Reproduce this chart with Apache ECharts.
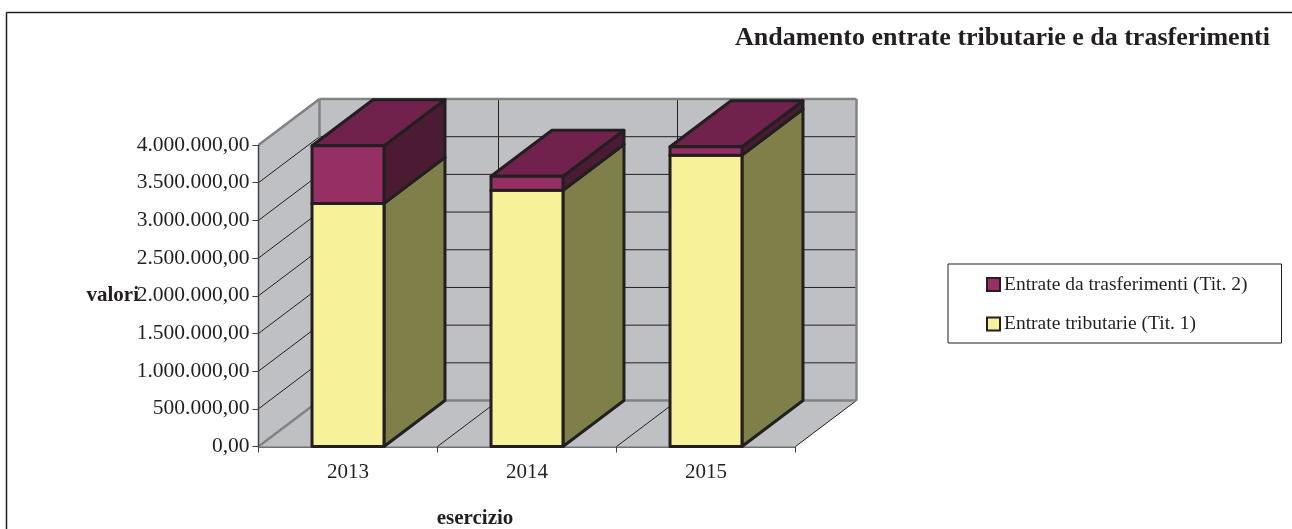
<!DOCTYPE html>
<html>
<head>
<meta charset="utf-8">
<style>html,body{margin:0;padding:0;background:#fff}#c{width:1292px;height:529px}</style>
<script src="https://cdn.jsdelivr.net/npm/echarts@6/dist/echarts.min.js"></script>
</head>
<body>
<div id="c"></div>
<script>
var categories = ['2013', '2014', '2015'];
var tributarie = [3225000, 3400000, 3865000];
var trasferimenti = [765000, 185000, 112000];
var yTicks = [0, 500000, 1000000, 1500000, 2000000, 2500000, 3000000, 3500000, 4000000];

var FONT = '"Liberation Serif", "Times New Roman", serif';
var INK = '#231f20';
var AXIS = '#414042';
var EDGE = '#808285';
var WALL = '#bfc0c4';
var DX = 61, DY = 46, BAR_RATIO = 0.402;

function fmt(v) {
  var s = String(Math.round(v)).replace(/\B(?=(\d{3})+(?!\d))/g, '.');
  return s + ',00';
}
function poly(points, fill, stroke, lw) {
  return { type: 'polygon', shape: { points: points }, style: { fill: fill, stroke: stroke, lineWidth: lw, lineJoin: 'round' } };
}
function seg(a, b, stroke, lw) {
  return { type: 'line', shape: { x1: a[0], y1: a[1], x2: b[0], y2: b[1] }, style: { stroke: stroke, lineWidth: lw, fill: null } };
}
function back(p) { return [p[0] + DX, p[1] - DY]; }

function renderWalls(params, api) {
  var band = api.size([1, 0])[0];
  var maxV = yTicks[yTicks.length - 1];
  var x0 = api.coord([0, 0])[0] - band / 2;
  var xN = x0 + band * categories.length;
  var y0 = api.coord([0, 0])[1];
  var yT = api.coord([0, maxV])[1];
  var a = [x0, y0], b = [xN, y0], c = [xN, yT], d = [x0, yT];
  var ch = [];
  ch.push(poly([a, back(a), back(d), d], WALL, null, 0));
  ch.push(poly([a, b, back(b), back(a)], WALL, null, 0));
  ch.push(poly([back(a), back(b), back(c), back(d)], WALL, null, 0));
  yTicks.forEach(function (v) {
    if (v === 0 || v === maxV) return;
    var y = api.coord([0, v])[1];
    ch.push(seg([x0, y], back([x0, y]), INK, 1));
    ch.push(seg(back([x0, y]), back([xN, y]), INK, 1));
  });
  for (var i = 1; i <= categories.length; i++) {
    var x = x0 + band * i;
    ch.push(seg([x, y0], back([x, y0]), INK, 1));
    if (i < categories.length) ch.push(seg(back([x, y0]), back([x, yT]), INK, 1));
  }
  ch.push(seg(a, back(a), EDGE, 2.5));
  ch.push(seg(d, back(d), EDGE, 2.5));
  ch.push(seg(back(a), back(d), EDGE, 2.5));
  ch.push(seg(back(a), back(b), EDGE, 2.5));
  ch.push(seg(back(b), back(c), EDGE, 2.5));
  ch.push(seg(back(c), back(d), EDGE, 2.5));
  ch.push(seg(a, d, AXIS, 1.5));
  return { type: 'group', children: ch };
}

function barRenderer(front, side, top) {
  return function (params, api) {
    var band = api.size([1, 0])[0];
    var w = band * BAR_RATIO;
    var pLow = api.coord([api.value(0), api.value(1)]);
    var pHigh = api.coord([api.value(0), api.value(2)]);
    var l = pLow[0] - w / 2, r = pLow[0] + w / 2;
    var bl = [l, pLow[1]], br = [r, pLow[1]], tl = [l, pHigh[1]], tr = [r, pHigh[1]];
    return {
      type: 'group',
      children: [
        poly([br, back(br), back(tr), tr], side, INK, 3),
        poly([tl, tr, back(tr), back(tl)], top, INK, 3),
        poly([bl, br, tr, tl], front, INK, 3)
      ]
    };
  };
}

var lowData = categories.map(function (c, i) { return [i, 0, tributarie[i]]; });
var highData = categories.map(function (c, i) { return [i, tributarie[i], tributarie[i] + trasferimenti[i]]; });

var chart = echarts.init(document.getElementById('c'), null, { renderer: 'canvas' });
chart.setOption({
  animation: false,
  backgroundColor: '#ffffff',
  title: {
    text: 'Andamento entrate tributarie e da trasferimenti',
    right: 17, top: 20,
    textStyle: { fontFamily: FONT, fontSize: 26, fontWeight: 'bold', color: INK }
  },
  legend: {
    left: 948, top: 264, orient: 'vertical',
    padding: [10.5, 34, 9, 38],
    itemGap: 19.5, itemWidth: 13, itemHeight: 13,
    borderColor: INK, borderWidth: 1, backgroundColor: '#fff',
    icon: 'rect',
    itemStyle: { borderColor: INK, borderWidth: 2 },
    data: ['Entrate da trasferimenti (Tit. 2)', 'Entrate tributarie (Tit. 1)'],
    textStyle: { fontFamily: FONT, fontSize: 19.5, color: INK, padding: [2, 0, 0, -1] },
    selectedMode: false
  },
  grid: { left: 258.5, top: 145, width: 537, height: 301.5, containLabel: false, outerBoundsMode: 'none' },
  xAxis: {
    type: 'category', data: categories,
    name: 'esercizio', nameLocation: 'middle', nameGap: 62, nameMoveOverlap: false,
    nameTextStyle: { fontFamily: FONT, fontSize: 21, fontWeight: 'bold', color: INK, padding: [0, 104, 0, 0] },
    axisLine: { show: true, lineStyle: { color: AXIS, width: 1.5 } },
    axisTick: { show: true, alignWithLabel: false, length: 6, lineStyle: { color: AXIS, width: 1 } },
    axisLabel: { fontFamily: FONT, fontSize: 21, color: INK, margin: 15 },
    splitLine: { show: false }
  },
  yAxis: {
    type: 'value', min: 0, max: 4000000, interval: 500000,
    name: 'valori', nameLocation: 'middle', nameRotate: 0, nameGap: 119.5, nameMoveOverlap: false,
    nameTextStyle: { fontFamily: FONT, fontSize: 21, fontWeight: 'bold', color: INK },
    axisLine: { show: true, lineStyle: { color: AXIS, width: 1.5 } },
    axisTick: { show: true, length: 6, lineStyle: { color: AXIS, width: 1 } },
    axisLabel: { fontFamily: FONT, fontSize: 21.5, color: INK, margin: 9, padding: [3, 0, 0, 0], formatter: fmt },
    splitLine: { show: false }
  },
  graphic: [
    { type: 'line', silent: true, shape: { x1: 6.5, y1: 12.5, x2: 1292, y2: 12.5 }, style: { stroke: INK, lineWidth: 1.5 } },
    { type: 'line', silent: true, shape: { x1: 6.5, y1: 12.5, x2: 6.5, y2: 529 }, style: { stroke: INK, lineWidth: 1.5 } }
  ],
  series: [
    {
      type: 'custom', name: 'walls', silent: true, clip: false, z: 1,
      data: [[0, 0]], encode: { x: 0, y: 1 },
      renderItem: renderWalls
    },
    {
      type: 'custom', name: 'Entrate tributarie (Tit. 1)', silent: true, clip: false, z: 2,
      itemStyle: { color: '#f7f29a', borderColor: INK, borderWidth: 2 },
      data: lowData, encode: { x: 0, y: [1, 2] },
      renderItem: barRenderer('#f7f29a', '#7f7f4a', '#7f7f4a')
    },
    {
      type: 'custom', name: 'Entrate da trasferimenti (Tit. 2)', silent: true, clip: false, z: 3,
      itemStyle: { color: '#962f63', borderColor: INK, borderWidth: 2 },
      data: highData, encode: { x: 0, y: [1, 2] },
      renderItem: barRenderer('#962f63', '#4b1a33', '#70224c')
    }
  ]
});
</script>
</body>
</html>
